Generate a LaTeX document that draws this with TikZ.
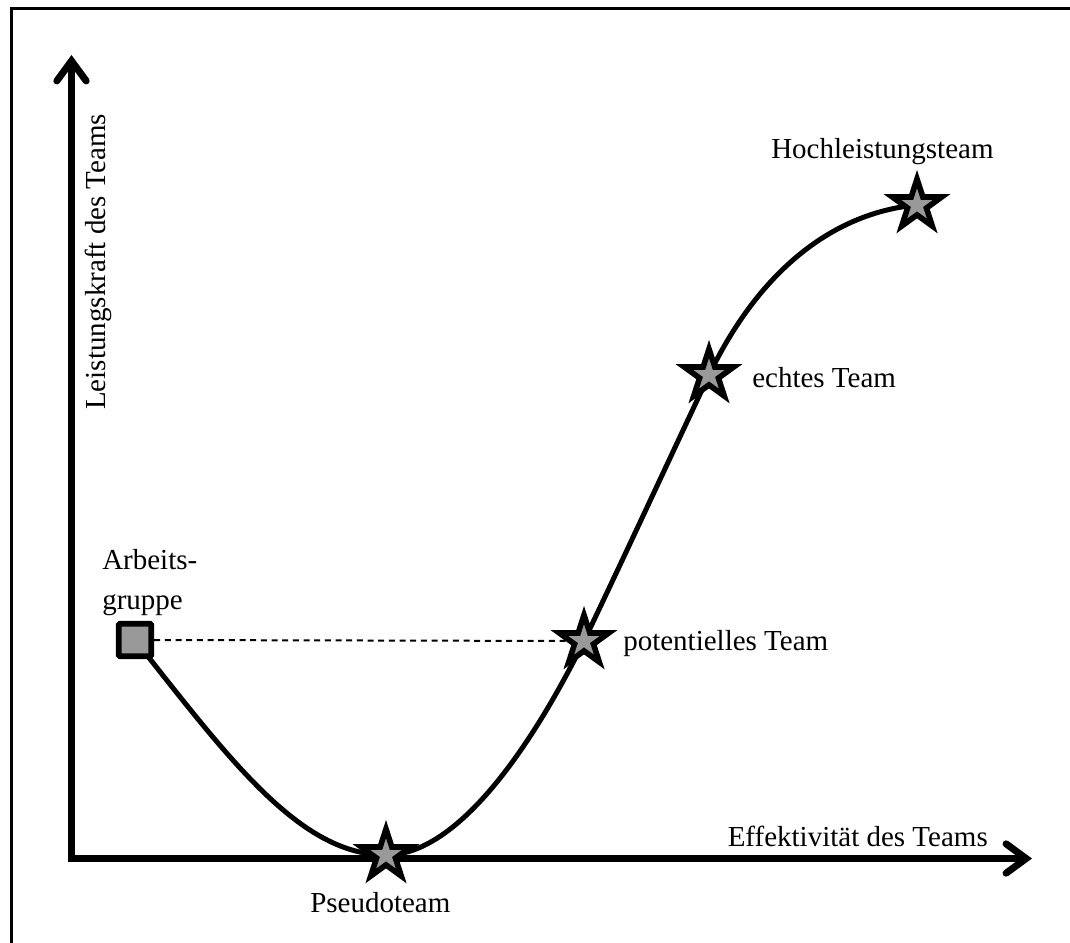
\documentclass[tikz,border=0pt]{standalone}
\usepackage{fontspec}
\setmainfont{Liberation Serif}
\usetikzlibrary{arrows.meta,shapes.geometric}
\definecolor{markfill}{RGB}{153,153,153}
\pgfdeclarelayer{background}
\pgfsetlayers{background,main}
\begin{document}
\begin{tikzpicture}[x=0.75pt,y=-0.75pt,
  barb/.tip={Straight Barb[length=15pt,width=22pt,line cap=round]},
  axis/.style={line width=5.25pt, line join=miter, barb-barb},
  curve/.style={line width=3.75pt},
  guide/.style={line width=1.5pt, dash pattern=on 4.5pt off 3.5pt},
  stage/.style={star, star points=5, star point ratio=2.618, minimum size=39pt,
    inner sep=0pt, draw=black, line width=4.2pt, fill=markfill, line join=miter},
  startbox/.style={rectangle, minimum size=24.5pt, inner sep=0pt, draw=black,
    line width=4.3pt, fill=markfill, rounded corners=1pt},
  lbl/.style={font=\fontsize{21.75}{30}\selectfont, inner sep=0pt}
]
\useasboundingbox (0,0) rectangle (1070,942);
\clip (0,0) rectangle (1070,942);
% outer frame
\draw[line width=2.25pt] (11.5,8.5) rectangle (1100,1000);

% axes
\coordinate (O) at (71.5,858.5);
\coordinate (ytip) at (71.5,55);
\coordinate (xtip) at (1032,858.5);

% development stages
\node[startbox] (start) at (135,640) {};
\node[stage] (pseudo) at (386,855) {};
\node[stage] (potent) at (584,641) {};
\node[stage] (echt) at (709,375) {};
\node[stage] (hoch) at (917,205) {};

\begin{pgfonlayer}{background}
  \draw[axis] (ytip) -- (O) -- (xtip);
  \draw[guide] (start.east) -- (potent.center);
  \draw[curve] (start.center) .. controls (230,760) and (300,855) .. (pseudo.center)
    .. controls (460,855) and (535,740) .. (potent.center)
    .. controls (626,553) and (668,462) .. (echt.center)
    .. controls (763,263) and (840,212) .. (hoch.center);
\end{pgfonlayer}

% labels
\node[lbl, anchor=base west] (lhoch) at (771,158) {Hochleistungsteam};
\node[lbl, anchor=base west] (lecht) at (752,387) {echtes Team};
\node[lbl, anchor=base west] (lpot) at (623,650) {potentielles Team};
\node[lbl, anchor=base west] (lpseudo) at (310,912) {Pseudoteam};
\node[lbl, anchor=south west, align=left] (lstart) at (102,616) {Arbeits-\\gruppe};
\node[lbl, anchor=base west, rotate=90] (ylabel) at (105,410) {Leistungskraft des Teams};
\node[lbl, anchor=base east] (xlabel) at (988,846) {Effektivität des Teams};
\end{tikzpicture}
\end{document}
